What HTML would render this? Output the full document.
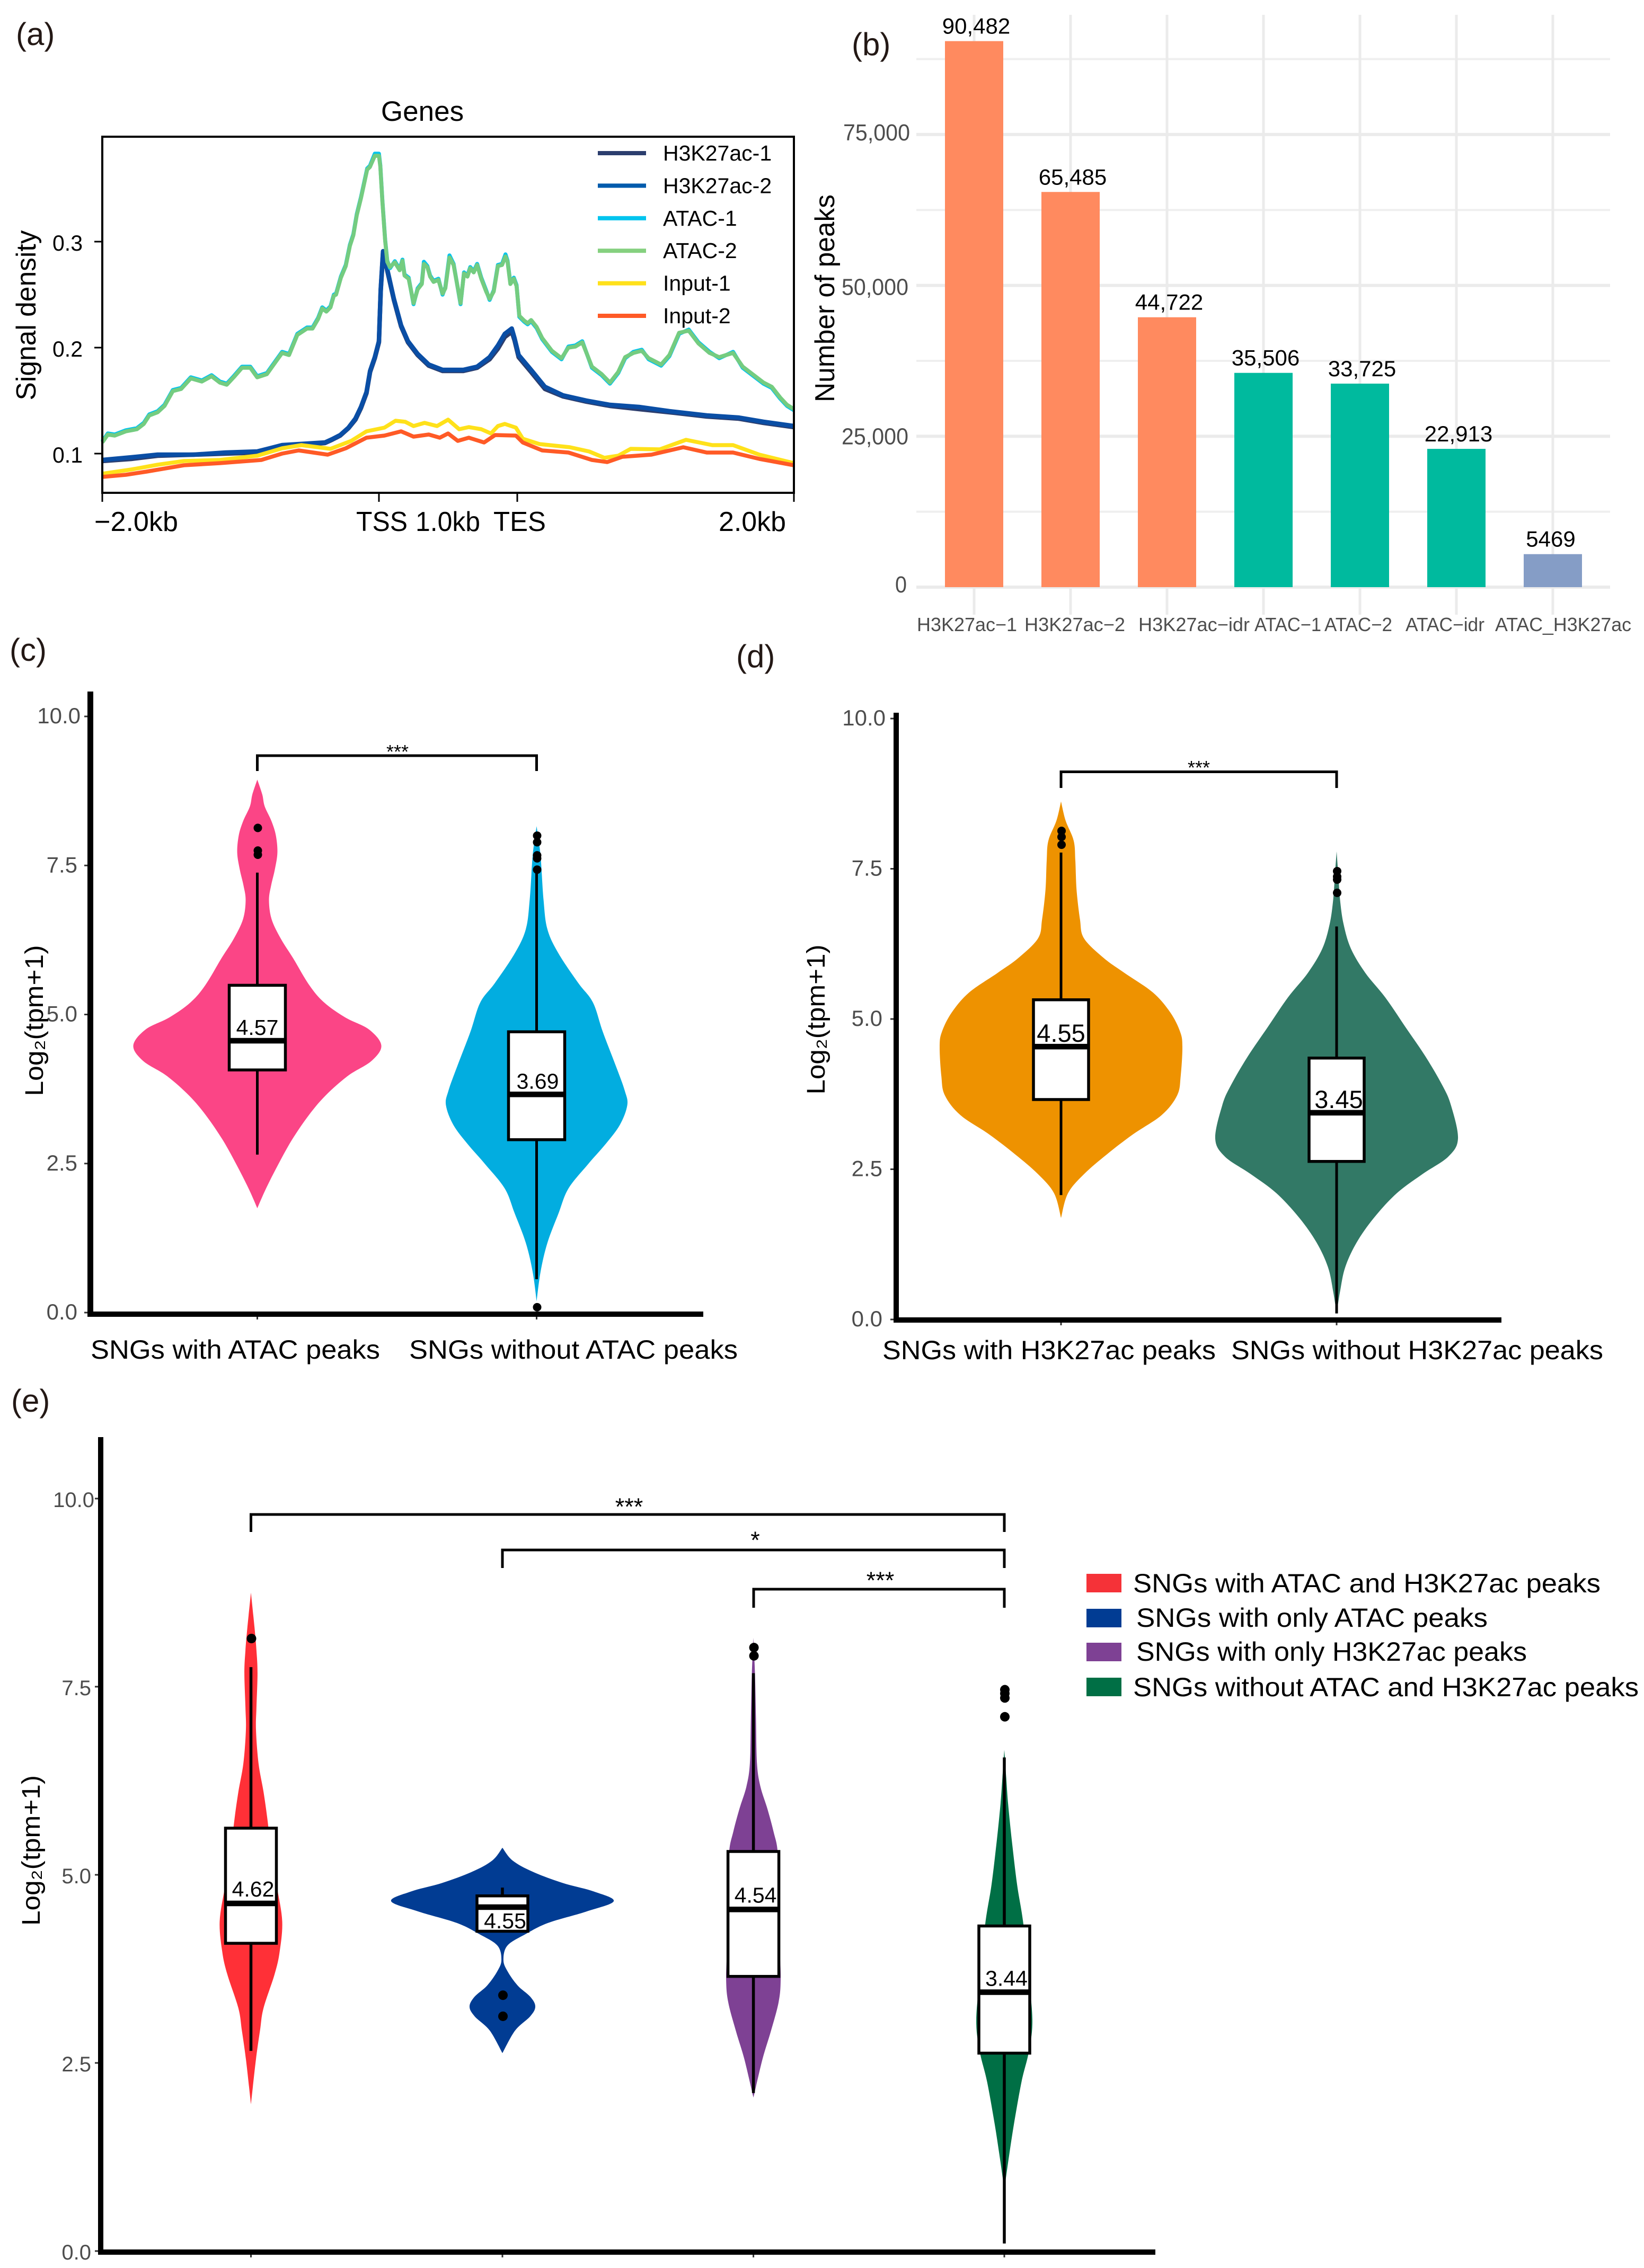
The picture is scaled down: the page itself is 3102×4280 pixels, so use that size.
<!DOCTYPE html>
<html lang="en">
<head>
<meta charset="utf-8">
<title>SNG epigenomic peak figure</title>
<style>
html,body{margin:0;padding:0;background:#fff}
svg{display:block}
text{font-family:"Liberation Sans","DejaVu Sans",sans-serif}
</style>
</head>
<body>
<svg id="fig" xmlns="http://www.w3.org/2000/svg" width="3102" height="4280" viewBox="0 0 3102 4280">
<rect x="0" y="0" width="3102" height="4280" fill="#fff"/>

<!-- panel letters -->
<g fill="#231815" font-size="60">
<text x="30" y="85">(a)</text>
<text x="1607" y="104">(b)</text>
<text x="18" y="1247">(c)</text>
<text x="1389" y="1259">(d)</text>
<text x="21" y="2664">(e)</text>
</g>

<!-- panel a static -->
<g id="panelA">
<text x="797" y="228" font-size="53" text-anchor="middle">Genes</text>
<text transform="translate(67,595) rotate(-90)" font-size="52" text-anchor="middle" textLength="321" lengthAdjust="spacingAndGlyphs">Signal density</text>
<g id="aSeries"></g>
<rect x="193" y="258" width="1305" height="672" fill="none" stroke="#000" stroke-width="4"/>
<g id="aTicks"></g>
<g font-size="52">
<text x="178" y="1002" textLength="158" lengthAdjust="spacingAndGlyphs">−2.0kb</text>
<text x="672" y="1002" textLength="97" lengthAdjust="spacingAndGlyphs">TSS</text>
<text x="784" y="1002" textLength="122" lengthAdjust="spacingAndGlyphs">1.0kb</text>
<text x="931" y="1002" textLength="99" lengthAdjust="spacingAndGlyphs">TES</text>
<text x="1356" y="1002" textLength="127" lengthAdjust="spacingAndGlyphs">2.0kb</text>
</g>
<g id="aLegend"></g>
</g>

<!-- panel b static -->
<g id="panelB">
<g id="bGrid"></g>
<g id="bBars"></g>
<g id="bTicks"></g>
<text transform="translate(1574,563) rotate(-90)" font-size="52" text-anchor="middle" textLength="392" lengthAdjust="spacingAndGlyphs">Number of peaks</text>
</g>

<!-- panel c static -->
<g id="panelC">
<g id="cMarks"></g>
<rect x="165" y="1305" width="11" height="1179" fill="#000"/>
<rect x="165" y="2475" width="1162" height="10" fill="#000"/>
<g id="cTicks"></g>
<path d="M485.5 1455V1426H1012.5V1455" fill="none" stroke="#000" stroke-width="5"/>
<text x="750" y="1431" font-size="36" text-anchor="middle">***</text>
<text transform="translate(81,1926) rotate(-90)" font-size="48" text-anchor="middle" textLength="285" lengthAdjust="spacingAndGlyphs">Log₂(tpm+1)</text>
<text x="171" y="2564" font-size="50" textLength="546" lengthAdjust="spacingAndGlyphs">SNGs with ATAC peaks</text>
<text x="772" y="2564" font-size="50" textLength="620" lengthAdjust="spacingAndGlyphs">SNGs without ATAC peaks</text>
</g>

<!-- panel d static -->
<g id="panelD">
<g id="dMarks"></g>
<rect x="1686" y="1345" width="10" height="1151" fill="#000"/>
<rect x="1686" y="2486" width="1147" height="10" fill="#000"/>
<g id="dTicks"></g>
<path d="M2002 1487V1456.5H2522V1487" fill="none" stroke="#000" stroke-width="5"/>
<text x="2262" y="1461" font-size="36" text-anchor="middle">***</text>
<text transform="translate(1556,1924) rotate(-90)" font-size="48" text-anchor="middle" textLength="283" lengthAdjust="spacingAndGlyphs">Log₂(tpm+1)</text>
<text x="1665" y="2565" font-size="50" textLength="629" lengthAdjust="spacingAndGlyphs">SNGs with H3K27ac peaks</text>
<text x="2323" y="2565" font-size="50" textLength="702" lengthAdjust="spacingAndGlyphs">SNGs without H3K27ac peaks</text>
</g>

<!-- panel e static -->
<g id="panelE">
<g id="eMarks"></g>
<rect x="185" y="2712" width="10" height="1543" fill="#000"/>
<rect x="185" y="4245" width="1995" height="10" fill="#000"/>
<g id="eTicks"></g>
<path d="M473.5 2891V2858H1895V2891" fill="none" stroke="#000" stroke-width="5"/>
<text x="1187" y="2859" font-size="45" text-anchor="middle">***</text>
<path d="M948 2959V2925H1895V2959" fill="none" stroke="#000" stroke-width="5"/>
<text x="1425" y="2922" font-size="45" text-anchor="middle">*</text>
<path d="M1422 3034V2999H1895V3034" fill="none" stroke="#000" stroke-width="5"/>
<text x="1661" y="2998" font-size="45" text-anchor="middle">***</text>
<text transform="translate(75,3492) rotate(-90)" font-size="48" text-anchor="middle" textLength="284" lengthAdjust="spacingAndGlyphs">Log₂(tpm+1)</text>
<g>
<rect x="2050" y="2970" width="66" height="35" fill="#f53238"/>
<rect x="2050" y="3036" width="66" height="35" fill="#013c93"/>
<rect x="2050" y="3100" width="66" height="35" fill="#7e4194"/>
<rect x="2050" y="3166" width="66" height="35" fill="#006f45"/>
<text x="2138" y="3005" font-size="50" textLength="882" lengthAdjust="spacingAndGlyphs">SNGs with ATAC and H3K27ac peaks</text>
<text x="2144" y="3070" font-size="50" textLength="663" lengthAdjust="spacingAndGlyphs">SNGs with only ATAC peaks</text>
<text x="2144" y="3134" font-size="50" textLength="737" lengthAdjust="spacingAndGlyphs">SNGs with only H3K27ac peaks</text>
<text x="2138" y="3201" font-size="50" textLength="954" lengthAdjust="spacingAndGlyphs">SNGs without ATAC and H3K27ac peaks</text>
</g>
</g>
</svg>

<script>
/* ---------- panel (a) data: kb position and signal density ---------- */
const atacKb=[-2,-1.96,-1.91,-1.83,-1.75,-1.7,-1.66,-1.6,-1.55,-1.49,-1.43,-1.36,-1.28,-1.21,-1.15,-1.1,-1.05,-0.99,-0.93,-0.88,-0.81,-0.75,-0.7,-0.65,-0.59,-0.52,-0.48,
-0.44,-0.41,-0.38,-0.35,-0.326,-0.31,-0.275,-0.24,-0.21,-0.185,-0.16,-0.13,-0.085,-0.065,-0.03,0,0.01,0.025,0.045,0.06,0.08,0.115,0.15,0.17,0.185,0.215,0.25,0.28,0.31,0.325,0.35,0.37,0.395,0.43,0.46,0.48,0.51,0.54,0.59,0.615,0.64,0.66,0.685,0.71,0.74,0.775,0.8,0.83,0.86,0.89,0.915,0.93,0.95,0.975,0.995,1.015,1.05,1.075,1.1,1.14,1.18,
1.25,1.32,1.37,1.42,1.47,1.54,1.61,1.67,1.73,1.78,1.84,1.9,1.95,2.04,2.1,2.17,2.24,2.31,2.39,2.46,2.56,2.63,2.71,2.78,2.84,2.9,2.95,3];
const atac2Signal=[0.1105,0.118,0.117,0.121,0.123,0.128,0.136,0.139,0.145,0.159,0.161,0.171,0.168,0.173,0.167,0.165,0.172,0.181,0.181,0.172,0.175,0.186,0.195,0.193,0.212,0.218,0.218,
0.227,0.237,0.234,0.238,0.249,0.25,0.266,0.277,0.296,0.306,0.325,0.341,0.368,0.3705,0.381,0.381,0.371,0.338,0.301,0.281,0.276,0.2805,0.273,0.282,0.268,0.265,0.242,0.255,0.26,0.279,0.276,0.267,0.262,0.264,0.251,0.256,0.285,0.278,0.242,0.27,0.267,0.275,0.271,0.278,0.265,0.253,0.246,0.253,0.277,0.278,0.286,0.281,0.26,0.265,0.258,0.23,0.2255,0.223,0.226,0.2195,0.209,
0.197,0.19,0.2,0.201,0.205,0.182,0.175,0.167,0.177,0.191,0.195,0.197,0.19,0.184,0.193,0.214,0.216,0.204,0.195,0.191,0.195,0.182,0.174,0.167,0.163,0.153,0.146,0.142];
const atac1Signal=[0.1115,0.119,0.118,0.122,0.124,0.129,0.137,0.14,0.146,0.16,0.162,0.172,0.169,0.174,0.168,0.166,0.173,0.182,0.182,0.173,0.176,0.187,0.196,0.194,0.213,0.219,0.219,
0.228,0.238,0.235,0.239,0.25,0.251,0.267,0.278,0.297,0.307,0.326,0.342,0.369,0.3715,0.383,0.383,0.372,0.339,0.302,0.282,0.275,0.2815,0.274,0.283,0.269,0.266,0.241,0.256,0.261,0.281,0.277,0.268,0.263,0.265,0.25,0.257,0.287,0.279,0.241,0.271,0.268,0.276,0.272,0.279,0.266,0.254,0.245,0.254,0.278,0.279,0.288,0.282,0.261,0.266,0.259,0.229,0.2245,0.222,0.225,0.2185,0.208,
0.196,0.189,0.201,0.202,0.206,0.181,0.174,0.166,0.176,0.19,0.196,0.198,0.189,0.183,0.192,0.213,0.217,0.205,0.196,0.19,0.196,0.181,0.173,0.166,0.162,0.152,0.145,0.141];
const histoneKb=[-2,-1.79,-1.6,-1.34,-1.11,-0.88,-0.7,-0.39,-0.34,-0.28,-0.22,-0.17,-0.13,-0.09,-0.064,-0.03,0,0.013,0.03,0.07,0.108,0.16,0.21,0.28,0.36,0.46,0.61,0.71,0.8,0.86,0.91,0.96,0.98,1.01,1.1,1.2,1.33,1.5,1.67,1.88,2.1,2.37,2.6,2.78,3];
const h3k27ac2Signal=[0.094,0.0965,0.099,0.099,0.101,0.102,0.108,0.1105,0.1135,0.1175,0.1245,0.133,0.144,0.158,0.178,0.191,0.206,0.255,0.291,0.268,0.246,0.221,0.206,0.194,0.184,0.179,0.179,0.182,0.191,0.202,0.213,0.218,0.209,0.193,0.179,0.163,0.155,0.15,0.146,0.144,0.14,0.136,0.134,0.13,0.126];
const h3k27ac1Signal=[0.093,0.095,0.098,0.099,0.1,0.101,0.107,0.11,0.113,0.117,0.124,0.132,0.143,0.157,0.177,0.19,0.205,0.254,0.29,0.267,0.245,0.22,0.205,0.193,0.183,0.178,0.178,0.181,0.189,0.199,0.21,0.215,0.207,0.191,0.177,0.161,0.154,0.149,0.145,0.142,0.139,0.135,0.133,0.129,0.125];
const input1Kb=[-2,-1.79,-1.6,-1.41,-1.15,-0.88,-0.7,-0.56,-0.35,-0.2,-0.09,0.04,0.12,0.19,0.25,0.33,0.42,0.5,0.58,0.65,0.74,0.81,0.86,0.91,0.99,1.04,1.16,1.38,1.52,1.63,1.73,1.82,2.03,2.22,2.41,2.56,2.75,3];
const input1Signal=[0.081,0.085,0.0895,0.093,0.094,0.098,0.105,0.108,0.1045,0.112,0.121,0.1245,0.131,0.13,0.126,0.129,0.126,0.132,0.123,0.125,0.123,0.119,0.126,0.128,0.1245,0.114,0.109,0.106,0.102,0.096,0.098,0.1045,0.104,0.113,0.108,0.108,0.099,0.091];
const input2Kb=[-2,-1.83,-1.68,-1.41,-1.15,-0.85,-0.7,-0.58,-0.37,-0.24,-0.09,0.04,0.16,0.25,0.36,0.44,0.5,0.57,0.65,0.76,0.84,0.99,1.04,1.18,1.37,1.54,1.65,1.76,1.97,2.2,2.37,2.56,2.75,3];
const input2Signal=[0.078,0.08,0.083,0.089,0.091,0.094,0.1,0.103,0.099,0.105,0.115,0.117,0.121,0.116,0.118,0.115,0.119,0.112,0.115,0.1105,0.1175,0.117,0.1105,0.103,0.101,0.094,0.092,0.097,0.099,0.106,0.101,0.101,0.095,0.089];
const profileNames=['H3K27ac-1','H3K27ac-2','ATAC-1','ATAC-2','Input-1','Input-2'];
const profileYTicks=[0.1,0.2,0.3];
const profileYTickLabels=['0.1','0.2','0.3'];
const profileXTicks=[-2,0,1,3];

/* ---------- panel (b) data ---------- */
const barCategories=['H3K27ac−1','H3K27ac−2','H3K27ac−idr','ATAC−1','ATAC−2','ATAC−idr','ATAC_H3K27ac'];
const barValues=[90482,65485,44722,35506,33725,22913,5469];
const barValueLabels=['90,482','65,485','44,722','35,506','33,725','22,913','5469'];
const barGroups=['h','h','h','a','a','a','b'];
const barMajorTicks=[0,25000,50000,75000];
const barMajorTickLabels=['0','25,000','50,000','75,000'];
const barMinorTicks=[12500,37500,62500,87500];

/* ---------- violin tick values ---------- */
const violinTicks=[0,2.5,5,7.5,10];
const violinTickLabels=['0.0','2.5','5.0','7.5','10.0'];

/* ---------- panel (c) data ---------- */
const cLevels1=[8.94,8.69,8.49,8.24,8,7.71,7.42,7.17,6.92,6.6,6.27,5.94,5.49,5.2,4.95,4.75,4.48,4.22,3.97,3.64,3.31,2.9,2.49,2.08,1.75];
const cDensity1=[0,0.04,0.06,0.115,0.15,0.162,0.14,0.112,0.094,0.115,0.19,0.29,0.42,0.54,0.71,0.9,1,0.92,0.73,0.55,0.415,0.28,0.17,0.07,0];
const cLevels2=[8.16,7.67,6.93,6.43,6.02,5.53,5.2,4.71,4.13,3.72,3.48,3.15,2.82,2.49,2.08,1.67,1.17,0.68,0.19];
const cDensity2=[0,0.043,0.076,0.119,0.243,0.459,0.622,0.73,0.876,0.973,1,0.919,0.757,0.568,0.351,0.243,0.119,0.043,0];
const cPeak=[1,0.731];
const cQ1=[4.07,2.9];
const cMedian=[4.56,3.66];
const cQ3=[5.49,4.71];
const cWhiskerLow=[2.65,0.56];
const cWhiskerHigh=[7.38,7.42];
const cOutliers=[[8.13,7.75,7.68],[8,7.89,7.67,7.62,7.43,0.09]];
const cMedianLabels=['4.57','3.69'];
const cNames=['with-atac','without-atac'];

/* ---------- panel (d) data ---------- */
const dLevels1=[8.62,8.3,7.97,7.64,7.15,6.66,6.34,6.01,5.77,5.44,5.11,4.79,4.54,4.05,3.73,3.4,3.08,2.75,2.42,2.1,1.69];
const dDensity1=[0,0.038,0.104,0.118,0.128,0.156,0.19,0.355,0.521,0.758,0.9,0.981,1,0.986,0.957,0.829,0.592,0.379,0.19,0.057,0];
const dLevels2=[7.79,7.4,6.99,6.58,6.17,5.77,5.36,4.87,4.38,3.89,3.56,3.01,2.71,2.42,2.1,1.69,1.28,0.87,0.46,0.1];
const dDensity2=[0,0.014,0.028,0.057,0.118,0.236,0.401,0.566,0.731,0.873,0.943,1,0.92,0.708,0.495,0.307,0.165,0.071,0.028,0];
const dPeak=[1,1];
const dQ1=[3.66,2.63];
const dMedian=[4.54,3.44];
const dQ3=[5.32,4.35];
const dWhiskerLow=[2.07,0.1];
const dWhiskerHigh=[7.77,6.54];
const dOutliers=[[8.13,8.03,7.9],[7.46,7.37,7.32,7.1]];
const dMedianLabels=['4.55','3.45'];
const dNames=['with-h3k27ac','without-h3k27ac'];

/* ---------- panel (e) data ---------- */
const eLevels1=[8.75,8.29,7.98,7.68,7.23,6.93,6.48,6.1,5.72,5.19,4.82,4.38,3.98,3.68,3.23,2.93,2.55,1.95];
const eDensity1=[0,0.113,0.177,0.21,0.177,0.161,0.242,0.403,0.532,0.677,0.839,1,0.919,0.758,0.403,0.29,0.161,0];
const eLevels2=[5.36,5.19,5.04,4.89,4.78,4.65,4.51,4.36,4.21,4.06,3.87,3.72,3.53,3.38,3.25,3.12,2.93,2.63];
const eDensity2=[0,0.091,0.273,0.545,0.818,1,0.75,0.409,0.205,0.045,0.009,0.045,0.136,0.25,0.295,0.25,0.114,0];
const eLevels3=[8.15,7.68,7.08,6.48,6.17,5.87,5.57,5.31,4.82,4.06,3.61,3.31,2.93,2.55,2.04];
const eDensity3=[0,0.056,0.093,0.13,0.259,0.519,0.741,0.889,0.926,0.963,1,0.926,0.648,0.333,0];
const eLevels4=[6.66,6.29,5.94,5.44,4.87,4.34,3.52,3.02,2.63,2.25,1.68,1.18,0.82];
const eDensity4=[0,0.068,0.136,0.273,0.455,0.682,0.909,1,0.864,0.614,0.341,0.136,0];
const ePeak=[0.281,1,0.245,0.252];
const eQ1=[4.09,4.25,3.65,2.63];
const eMedian=[4.62,4.57,4.54,3.44];
const eQ3=[5.62,4.72,5.31,4.32];
const eWhiskerLow=[2.66,4.25,2.1,0.1];
const eWhiskerHigh=[7.76,4.83,7.68,6.56];
const eOutliers=[[8.14],[3.4,3.12],[8.02,7.91],[7.46,7.41,7.35,7.1]];
const eMedianLabels=['4.62','4.55','4.54','3.44'];
const eNames=['atac-and-h3k27ac','only-atac','only-h3k27ac','without-both'];

/* ---------- helpers ---------- */
const NS='http://www.w3.org/2000/svg';
function add(parent,tag,attrs,content){
  const el=document.createElementNS(NS,tag);
  for(const k in attrs){el.setAttribute(k,attrs[k]);}
  if(content!==undefined){el.textContent=content;}
  parent.appendChild(el);
  return el;
}
function slug(s){return String(s).toLowerCase().replace(/[^a-z0-9]+/g,'-');}

/* ---------- panel (a) ---------- */
const aX=kb=>193+(kb+2)*261;
const aY=s=>856-(s-0.1)*2000;
const profileColors=['#2c3e6e','#0a4ea5','#00c4ee','#74cc80','#ffe11a','#ff5a26'];
const profileWidths=[8.5,8.5,7.5,7.5,7.5,7.5];
const profileKb=[histoneKb,histoneKb,atacKb,atacKb,input1Kb,input2Kb];
const profileSignal=[h3k27ac1Signal,h3k27ac2Signal,atac1Signal,atac2Signal,input1Signal,input2Signal];
const aSeries=document.getElementById('aSeries');
const drawOrder=[0,1,2,3,4,5];
drawOrder.forEach(function(i){
  const d=profileKb[i].map(function(k,j){return (j?'L':'M')+aX(k).toFixed(1)+' '+aY(profileSignal[i][j]).toFixed(1);}).join('');
  const line=add(aSeries,'path',{d:d,fill:'none',stroke:profileColors[i],'stroke-width':profileWidths[i],'stroke-linejoin':'round'});
  
  
});
const aTicks=document.getElementById('aTicks');
profileYTicks.forEach(function(v,i){
  const t=add(aTicks,'line',{x1:178,x2:193,y1:aY(v),y2:aY(v),stroke:'#000','stroke-width':3});
  
  
  const lb=add(aTicks,'text',{x:99,y:aY(v)+17,'font-size':42,textLength:57,lengthAdjust:'spacingAndGlyphs'},profileYTickLabels[i]);
  
  
});
profileXTicks.forEach(function(k){
  const t=add(aTicks,'line',{x1:aX(k),x2:aX(k),y1:930,y2:947,stroke:'#000','stroke-width':3});
  
  
});
const aLegend=document.getElementById('aLegend');
const legendColors=['#2c3e6e','#005bac','#00c4ee','#85d07f','#ffe11a','#ff5a26'];
profileNames.forEach(function(n,i){
  const ly=289+i*61.4;
  const sw=add(aLegend,'rect',{x:1128,y:ly-4,width:91,height:8,fill:legendColors[i]});
  
  
  const lt=add(aLegend,'text',{x:1251,y:ly+14,'font-size':41},n);
  
  
});

/* ---------- panel (b) ---------- */
const bY=v=>1108-v*0.011388;
const bX=i=>1838+182*i;
const bGrid=document.getElementById('bGrid');
barMinorTicks.forEach(function(v){
  const g=add(bGrid,'line',{x1:1729,x2:3038,y1:bY(v),y2:bY(v),stroke:'#efefef','stroke-width':4});
  
  
});
barMajorTicks.forEach(function(v){
  const g=add(bGrid,'line',{x1:1729,x2:3038,y1:bY(v),y2:bY(v),stroke:'#ebebeb','stroke-width':6});
  
  
});
barCategories.forEach(function(c,i){
  const g=add(bGrid,'line',{x1:bX(i),x2:bX(i),y1:28,y2:1160,stroke:'#ebebeb','stroke-width':5});
  
  
});
const barColors={h:'#ff8a5f',a:'#00ba9e',b:'#859dc6'};
const bBars=document.getElementById('bBars');
barValues.forEach(function(v,i){
  const r=add(bBars,'rect',{x:bX(i)-55,y:bY(v),width:110,height:bY(0)-bY(v),fill:barColors[barGroups[i]]});
  
  
  const t=add(bBars,'text',{x:bX(i)+(i===6?-4:4),y:bY(v)-14,'font-size':42,'text-anchor':'middle'},barValueLabels[i]);
  
  
});
const bTicks=document.getElementById('bTicks');
const barTickNudge={0:10,25000:15,50000:18,75000:11};
const barTickRight={0:1711,25000:1714,50000:1714,75000:1717};
barMajorTicks.forEach(function(v,i){
  const t=add(bTicks,'text',{x:barTickRight[v],y:bY(v)+barTickNudge[v],'font-size':44,'text-anchor':'end',fill:'#4d4d4d',textLength:v?126:22,lengthAdjust:'spacingAndGlyphs'},barMajorTickLabels[i]);
  
  
});
const barLabelStarts=[1730,1933,2148,2367,2499,2652,2821];
const barLabelWidths=[189,190,210,126,128,149,257];
barCategories.forEach(function(c,i){
  const t=add(bTicks,'text',{x:barLabelStarts[i],y:1191,'font-size':36,fill:'#4d4d4d',textLength:barLabelWidths[i],lengthAdjust:'spacingAndGlyphs'},c);
  
  
});

/* ---------- violin drawing ---------- */
function smoothSide(pts){
  let d='';
  for(let i=0;i<pts.length-1;i++){
    const p0=pts[Math.max(i-1,0)],p1=pts[i],p2=pts[i+1],p3=pts[Math.min(i+2,pts.length-1)];
    const c1x=p1[0]+(p2[0]-p0[0])/6,c1y=p1[1]+(p2[1]-p0[1])/6;
    const c2x=p2[0]-(p3[0]-p1[0])/6,c2y=p2[1]-(p3[1]-p1[1])/6;
    d+='C'+c1x.toFixed(1)+' '+c1y.toFixed(1)+' '+c2x.toFixed(1)+' '+c2y.toFixed(1)+' '+p2[0].toFixed(1)+' '+p2[1].toFixed(1);
  }
  return d;
}
function drawGroup(root,o){
  const y=o.y,cx=o.cx;
  const right=o.levels.map(function(v,j){return [cx+o.density[j]*o.peak*o.widthScale,y(v)];});
  const left=o.levels.map(function(v,j){return [cx-o.density[j]*o.peak*o.widthScale,y(v)];}).reverse();
  const path='M'+right[0][0].toFixed(1)+' '+right[0][1].toFixed(1)+smoothSide(right)+smoothSide(left)+'Z';
  const vio=add(root,'path',{d:path,fill:o.color});
  
  
  const up=add(root,'line',{x1:cx,x2:cx,y1:y(o.q3),y2:y(o.hi),stroke:'#000','stroke-width':o.whisker});
  
  
  const lo=add(root,'line',{x1:cx,x2:cx,y1:y(o.q1),y2:y(o.lo),stroke:'#000','stroke-width':o.whisker});
  
  
  const box=add(root,'rect',{x:cx-o.boxHalf,y:y(o.q3),width:o.boxHalf*2,height:y(o.q1)-y(o.q3),fill:'#fff',stroke:'#000','stroke-width':5.5});
  
  
  const med=add(root,'line',{x1:cx-o.boxHalf,x2:cx+o.boxHalf,y1:y(o.med),y2:y(o.med),stroke:'#000','stroke-width':10.5});
  
  
  o.outliers.forEach(function(v){
    const c=add(root,'circle',{cx:cx+1,cy:y(v),r:o.dot,fill:'#000'});
    
    
  });
  const t=add(root,'text',{x:cx+o.labelDx,y:y(o.med)+o.labelDy,'font-size':o.labelSize,'text-anchor':'middle'},o.label);
  
  
}
function drawViolinTicks(root,y,axisLeft,labelRight,base,centers,axisBottom,size){
  violinTicks.forEach(function(v,i){
    const t=add(root,'line',{x1:axisLeft-6,x2:axisLeft,y1:y(v),y2:y(v),stroke:'#333','stroke-width':3});
    
    
    const l=add(root,'text',{x:labelRight+(v===10?6:0),y:y(v)+base,'font-size':size,'text-anchor':'end',fill:'#4d4d4d'},violinTickLabels[i]);
    
    
  });
  centers.forEach(function(cx){
    const t=add(root,'line',{x1:cx,x2:cx,y1:axisBottom,y2:axisBottom+5,stroke:'#333','stroke-width':3});
    
    
  });
}

/* ---------- panel (c) ---------- */
const cY=v=>2477-112.5*v;
const cCenters=[485.5,1012.5];
const cColors=['#fb4586','#02ade0'];
const cLevelSets=[cLevels1,cLevels2];
const cDensitySets=[cDensity1,cDensity2];
cNames.forEach(function(n,i){
  drawGroup(document.getElementById('cMarks'),{y:cY,cx:cCenters[i],levels:cLevelSets[i],density:cDensitySets[i],peak:cPeak[i],widthScale:234,color:cColors[i],name:n,q1:cQ1[i],q3:cQ3[i],med:cMedian[i],lo:cWhiskerLow[i],hi:cWhiskerHigh[i],outliers:cOutliers[i],label:cMedianLabels[i],boxHalf:53,whisker:5,dot:8,labelDx:i?2:0,labelDy:-11,labelSize:41});
});
drawViolinTicks(document.getElementById('cTicks'),cY,165,146,13,cCenters,2485,42);

/* ---------- panel (d) ---------- */
const dY=v=>2490-113.4*v;
const dCenters=[2002,2522];
const dColors=['#ee9200','#327966'];
const dLevelSets=[dLevels1,dLevels2];
const dDensitySets=[dDensity1,dDensity2];
dNames.forEach(function(n,i){
  drawGroup(document.getElementById('dMarks'),{y:dY,cx:dCenters[i],levels:dLevelSets[i],density:dDensitySets[i],peak:dPeak[i],widthScale:229,color:dColors[i],name:n,q1:dQ1[i],q3:dQ3[i],med:dMedian[i],lo:dWhiskerLow[i],hi:dWhiskerHigh[i],outliers:dOutliers[i],label:dMedianLabels[i],boxHalf:52,whisker:5,dot:8,labelDx:i?4:0,labelDy:-9,labelSize:47});
});
drawViolinTicks(document.getElementById('dTicks'),dY,1686,1665,13,dCenters,2496,42);

/* ---------- panel (e) ---------- */
const eY=v=>4248-142*v;
const eCenters=[473.5,948,1421.6,1895];
const eColors=['#ff3037','#013c93','#7e4194','#006f45'];
const eLevelSets=[eLevels1,eLevels2,eLevels3,eLevels4];
const eDensitySets=[eDensity1,eDensity2,eDensity3,eDensity4];
const eLabelOffsets=[-13,40,-13,-12];
const eLabelShift=[4,5,4,4];
eNames.forEach(function(n,i){
  drawGroup(document.getElementById('eMarks'),{y:eY,cx:eCenters[i],levels:eLevelSets[i],density:eDensitySets[i],peak:ePeak[i],widthScale:210,color:eColors[i],name:n,q1:eQ1[i],q3:eQ3[i],med:eMedian[i],lo:eWhiskerLow[i],hi:eWhiskerHigh[i],outliers:eOutliers[i],label:eMedianLabels[i],boxHalf:48,whisker:5.5,dot:9,labelDx:eLabelShift[i],labelDy:eLabelOffsets[i],labelSize:41});
});
drawViolinTicks(document.getElementById('eTicks'),eY,185,172,16,eCenters,4255,40);
</script>
</body>
</html>
